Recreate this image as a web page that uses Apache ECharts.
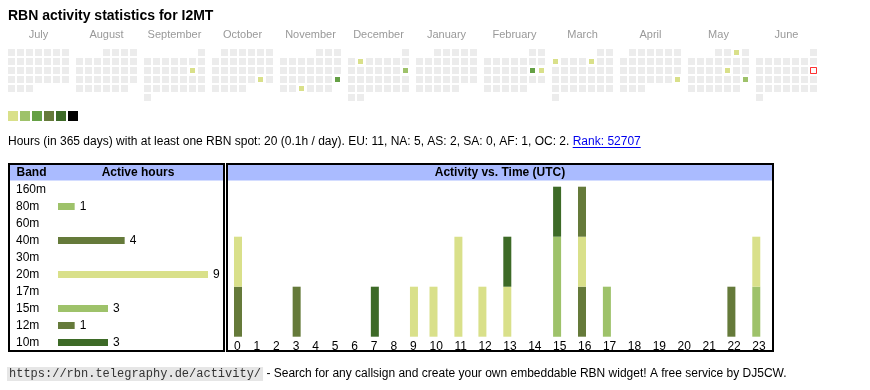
<!DOCTYPE html>
<html><head><meta charset="utf-8">
<script src="https://cdn.jsdelivr.net/npm/echarts@6/dist/echarts.min.js"></script>
<style>html,body{margin:0;padding:0;background:#fff}#c{width:870px;height:390px}</style>
</head><body><div id="c"></div>
<script>
// ---------- data ----------
const callsign = 'I2MT';
const months = ['2024-07','2024-08','2024-09','2024-10','2024-11','2024-12','2025-01','2025-02','2025-03','2025-04','2025-05','2025-06'];
const monthNames = ['July','August','September','October','November','December','January','February','March','April','May','June'];
const activeDays = ['2024-09-14','2024-10-26','2024-11-24','2024-11-27','2024-12-03','2024-12-15','2025-02-15','2025-02-16','2025-03-03','2025-03-07','2025-04-27','2025-05-03','2025-05-16','2025-05-25'];
const dayHours   = [1,1,3,1,1,2,3,1,1,1,1,1,1,2];
const today = '2025-06-15';
const levelColors = ['#d9e08a','#9ec26a','#65a045','#657a3a','#3d6a27','#000000'];
const continents = ['EU','NA','AS','SA','AF','OC'];
const continentHours = [11,5,2,0,1,2];
const rank = 52707;

const bands = ['160m','80m','60m','40m','30m','20m','17m','15m','12m','10m'];
const bandHours = [null,1,null,4,null,9,null,3,1,3];
const bandColors = ['#3d6a27','#9ec26a','#65a045','#657a3a','#65a045','#d9e08a','#65a045','#9ec26a','#657a3a','#3d6a27'];

const hourLabels = ['0','1','2','3','4','5','6','7','8','9','10','11','12','13','14','15','16','17','18','19','20','21','22','23'];
const act160m = [0,0,0,0,0,0,0,0,0,0,0,0,0,0,0,0,0,0,0,0,0,0,0,0];
const act80m  = [0,0,0,0,0,0,0,0,0,0,0,0,0,0,0,0,0,0,0,0,0,0,0,1];
const act60m  = [0,0,0,0,0,0,0,0,0,0,0,0,0,0,0,0,0,0,0,0,0,0,0,0];
const act40m  = [1,0,0,1,0,0,0,0,0,0,0,0,0,0,0,0,1,0,0,0,0,0,1,0];
const act30m  = [0,0,0,0,0,0,0,0,0,0,0,0,0,0,0,0,0,0,0,0,0,0,0,0];
const act20m  = [1,0,0,0,0,0,0,0,0,1,1,2,1,1,0,0,1,0,0,0,0,0,0,1];
const act17m  = [0,0,0,0,0,0,0,0,0,0,0,0,0,0,0,0,0,0,0,0,0,0,0,0];
const act15m  = [0,0,0,0,0,0,0,0,0,0,0,0,0,0,0,2,0,1,0,0,0,0,0,0];
const act12m  = [0,0,0,0,0,0,0,0,0,0,0,0,0,0,0,0,1,0,0,0,0,0,0,0];
const act10m  = [0,0,0,0,0,0,0,1,0,0,0,0,0,1,0,1,0,0,0,0,0,0,0,0];
const actByBand = [act160m,act80m,act60m,act40m,act30m,act20m,act17m,act15m,act12m,act10m];

// ---------- helpers ----------
const SANS = '"Liberation Sans", Arial, sans-serif';
const MONO = '"Liberation Mono", "Courier New", monospace';
const ctx = document.createElement('canvas').getContext('2d');
function tw(font, s){ ctx.font = font; return ctx.measureText(s).width; }

const chart = echarts.init(document.getElementById('c'), null, {renderer:'canvas'});

// calendars
const calLeft0 = 7, calPitch = 68, calTop = 48, cell = 9;
const calendars = months.map((m,i)=>({
  orient:'vertical', left: calLeft0 + calPitch*i, top: calTop, cellSize:[cell,cell], range:m,
  splitLine:{show:false},
  itemStyle:{color:'#ececec', borderColor:'#ffffff', borderWidth:2},
  dayLabel:{show:false, firstDay:1}, monthLabel:{show:false}, yearLabel:{show:false}
}));
const heatSeries = months.map((m,i)=>({
  type:'heatmap', coordinateSystem:'calendar', calendarIndex:i,
  data: activeDays.map((d,k)=>[d, dayHours[k]]).filter(p=>p[0].slice(0,7)===m),
  itemStyle:{borderColor:'#ffffff', borderWidth:2}, emphasis:{disabled:true}, silent:true
}));

// activity table: column layout like an HTML table (cell content = max(label width, bar width) + padding)
const actGridLeft = 226, actGridWidth = 546, barW = 8, cellPad = 11.55, firstColLeft = 8;
const hourFont = '12px ' + SANS;
const colLeft = [];
{ let x = firstColLeft; hourLabels.forEach(l=>{ colLeft.push(x); x += Math.max(tw(hourFont, l), barW) + cellPad; }); }
const colCenter = colLeft.map(x => x + barW/2);

// stack segments per band: [x, base, top]
const stackBase = hourLabels.map(()=>0);
const actSegments = actByBand.map(arr => {
  const segs = [];
  arr.forEach((v,h)=>{ if (v > 0) { segs.push([colCenter[h], stackBase[h], stackBase[h] + v]); stackBase[h] += v; } });
  return segs;
});

const total = dayHours.reduce((a,b)=>a+b,0);
const statText = 'Hours (in 365 days) with at least one RBN spot: ' + total + ' (' + (total/365).toFixed(1) + 'h / day). ' +
  continents.map((c,i)=>c + ': ' + continentHours[i]).join(', ') + '. ';
const rankText = 'Rank: ' + rank;
const statFont = '12px ' + SANS;
const statW = tw(statFont, statText);
const rankW = tw(statFont, rankText);

const footUrl = 'https://rbn.telegraphy.de/activity/';
const footFont = '12px ' + MONO;
const footUrlW = tw(footFont, footUrl);
const footRest = ' - Search for any callsign and create your own embeddable RBN widget! A free service by DJ5CW.';

const graphics = [
  {type:'text', x:8, y:16, style:{text:'RBN activity statistics for ' + callsign, font:'bold 14px ' + SANS, fill:'#000', align:'left', verticalAlign:'middle'}},
  ...monthNames.map((n,i)=>({type:'text', x: calLeft0 + calPitch*i + 31.5, y:35, style:{text:n, font:'11px ' + SANS, fill:'#999', align:'center', verticalAlign:'middle'}})),
  {type:'text', x:8, y:142, style:{text:statText, font:statFont, fill:'#000', align:'left', verticalAlign:'middle'}},
  {type:'text', x:8 + statW, y:142, style:{text:rankText, font:statFont, fill:'#0000ee', align:'left', verticalAlign:'middle'}},
  {type:'line', shape:{x1:8+statW, y1:147.5, x2:8+statW+rankW, y2:147.5}, style:{stroke:'#0000ee', lineWidth:1}},
  // band box
  {type:'rect', shape:{x:10, y:165, width:213, height:15.5}, style:{fill:'#aabbff'}},
  {type:'rect', shape:{x:9, y:164, width:215, height:187}, style:{fill:null, stroke:'#000', lineWidth:2}},
  {type:'text', x:16.5, y:173, style:{text:'Band', font:'bold 12px ' + SANS, fill:'#000', align:'left', verticalAlign:'middle'}},
  {type:'text', x:138, y:173, style:{text:'Active hours', font:'bold 12px ' + SANS, fill:'#000', align:'center', verticalAlign:'middle'}},
  // activity box
  {type:'rect', shape:{x:228, y:165, width:544, height:15.5}, style:{fill:'#aabbff'}},
  {type:'rect', shape:{x:227, y:164, width:546, height:187}, style:{fill:null, stroke:'#000', lineWidth:2}},
  {type:'text', x:500, y:173, style:{text:'Activity vs. Time (UTC)', font:'bold 12px ' + SANS, fill:'#000', align:'center', verticalAlign:'middle'}},
  // footer
  {type:'text', x:7, y:374, style:{text:footUrl, font:footFont, fill:'#333', backgroundColor:'#e6e6e6', padding:[1,2], align:'left', verticalAlign:'middle'}},
  {type:'text', x:7 + footUrlW + 4, y:374, style:{text:footRest, font:'12px ' + SANS, fill:'#000', align:'left', verticalAlign:'middle'}}
];

function nearestHourLabel(v){
  let best = 0, bd = Infinity;
  colLeft.forEach((x,i)=>{ const d = Math.abs(x - v); if (d < bd) { bd = d; best = i; } });
  return hourLabels[best];
}

const option = {
  animation:false,
  backgroundColor:'#fff',
  calendar: calendars,
  visualMap:{
    type:'piecewise', orient:'horizontal', left:8, top:111, padding:0,
    itemWidth:10, itemHeight:10, itemGap:2, itemSymbol:'rect', showLabel:false,
    hoverLink:false, selectedMode:false,
    seriesIndex: heatSeries.map((s,i)=>i),
    pieces: levelColors.map((c,i)=>({value:i+1, color:c}))
  },
  grid:[
    {left:58, top:181, width:150, height:170, outerBoundsMode:'none', containLabel:false},
    {left:actGridLeft, top:186.7, width:actGridWidth, height:150, outerBoundsMode:'none', containLabel:false}
  ],
  xAxis:[
    {type:'value', gridIndex:0, min:0, max:9, show:false},
    {type:'value', gridIndex:1, min:0, max:actGridWidth, axisLine:{show:false}, axisTick:{show:false}, splitLine:{show:false},
     axisLabel:{customValues: colLeft, align:'left', margin:4, color:'#000', fontSize:12, fontFamily:SANS,
                showMinLabel:true, showMaxLabel:true, hideOverlap:false, formatter: v => nearestHourLabel(v)}}
  ],
  yAxis:[
    {type:'category', gridIndex:0, data:bands, inverse:true, axisLine:{show:false}, axisTick:{show:false}, splitLine:{show:false},
     axisLabel:{align:'left', margin:42, color:'#000', fontSize:12, fontFamily:SANS}},
    {type:'value', gridIndex:1, min:0, max:3, show:false, splitLine:{show:false}}
  ],
  series:[
    ...heatSeries,
    {type:'scatter', coordinateSystem:'calendar', calendarIndex:11, data:[[today,1]], symbol:'rect', symbolSize:6,
     itemStyle:{color:'#fff', borderColor:'#ff0000', borderWidth:1}, silent:true, z:5},
    {type:'bar', xAxisIndex:0, yAxisIndex:0, barWidth:7, silent:true,
     data: bandHours.map((v,i)=>({value:v, itemStyle:{color:bandColors[i]}})),
     label:{show:true, position:'right', distance:5, color:'#000', fontSize:12, fontFamily:SANS}},
    ...bands.map((b,i)=>({type:'custom', name:b, xAxisIndex:1, yAxisIndex:1, silent:true,
      data: actSegments[i],
      encode:{x:0, y:[1,2]},
      renderItem:(params, api)=>{
        const p0 = api.coord([api.value(0), api.value(1)]);
        const p1 = api.coord([api.value(0), api.value(2)]);
        const w = api.size([barW, 0])[0];
        return {type:'rect', shape:{x:p0[0]-w/2, y:p1[1], width:w, height:p0[1]-p1[1]}, style:{fill:bandColors[i]}};
      }}))
  ],
  graphic: graphics
};
chart.setOption(option);
</script></body></html>
